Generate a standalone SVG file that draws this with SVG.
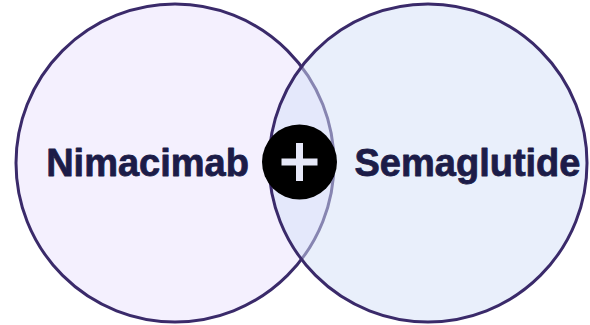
<svg xmlns="http://www.w3.org/2000/svg" width="590" height="325" viewBox="0 0 590 325">
<style>
.ring{stroke:#3A2A6A;stroke-width:3}
.lbl{font-family:"Liberation Sans",Arial,sans-serif;font-weight:bold;font-size:38px;fill:#1C1C48;stroke:#1C1C48;stroke-width:0.8;stroke-linejoin:round;text-anchor:middle}
</style>
<rect width="590" height="325" fill="#FFFFFF"/>
<g id="nimacimab">
<circle class="ring" cx="175" cy="163" r="159" fill="#F4F0FE"/>
</g>
<g id="semaglutide">
<circle class="ring" cx="428" cy="163" r="159" fill="#D3DFF7" fill-opacity="0.5"/>
</g>
<g id="labels">
<text class="lbl" x="147.5" y="176">Nimacimab</text>
<text class="lbl" x="467.5" y="176">Semaglutide</text>
</g>
<g id="plus">
<circle cx="299.5" cy="162" r="37.5" fill="#000000"/>
<rect x="281.5" y="158.5" width="36" height="7" fill="#E6E8F8"/>
<rect x="296" y="143" width="7" height="38" fill="#E6E8F8"/>
</g>
<g id="connectors"></g>
</svg>
